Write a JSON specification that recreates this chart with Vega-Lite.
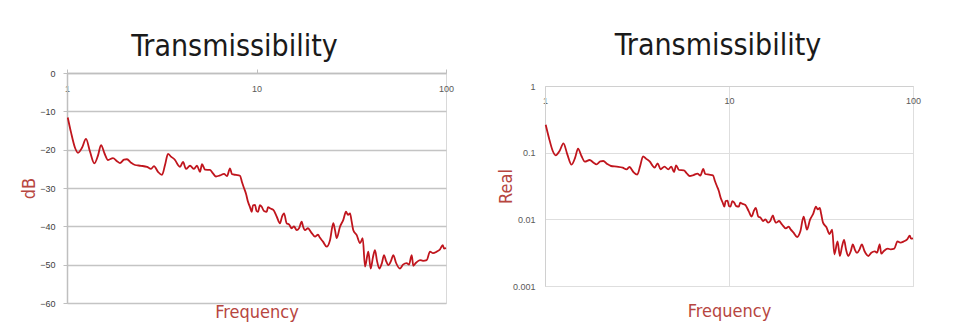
{
"$schema":"https://vega.github.io/schema/vega-lite/v6.json",
"background":"white",
"padding":{"left":20,"top":31,"right":5,"bottom":0},
"data":{"values":[
{"f":1.009,"db":-11.6,"real":0.263},{"f":1.050,"db":-15.5,"real":0.168},{"f":1.102,"db":-19.5,"real":0.106},{"f":1.143,"db":-20.8,"real":0.0912},{"f":1.200,"db":-19.5,"real":0.106},{"f":1.260,"db":-17.2,"real":0.138},{"f":1.322,"db":-20.5,"real":0.0944},{"f":1.394,"db":-23.6,"real":0.0661},{"f":1.458,"db":-21.5,"real":0.0841},{"f":1.512,"db":-18.8,"real":0.115},{"f":1.578,"db":-21,"real":0.0891},{"f":1.646,"db":-22.7,"real":0.0733},{"f":1.748,"db":-22.2,"real":0.0776},{"f":1.836,"db":-23,"real":0.0708},{"f":1.904,"db":-23.5,"real":0.0668},{"f":1.999,"db":-22.6,"real":0.0741},{"f":2.073,"db":-22.5,"real":0.0750},{"f":2.176,"db":-23.4,"real":0.0676},{"f":2.285,"db":-24,"real":0.0631},{"f":2.457,"db":-24.2,"real":0.0617},{"f":2.644,"db":-24.5,"real":0.0596},{"f":2.776,"db":-25,"real":0.0562},{"f":2.878,"db":-24.3,"real":0.0610},{"f":3.022,"db":-25.8,"real":0.0513},{"f":3.172,"db":-26.6,"real":0.0468},{"f":3.290,"db":-24,"real":0.0631},{"f":3.412,"db":-21.1,"real":0.0881},{"f":3.538,"db":-21.8,"real":0.0813},{"f":3.715,"db":-22.7,"real":0.0733},{"f":3.853,"db":-24,"real":0.0631},{"f":3.948,"db":-24.5,"real":0.0596},{"f":4.095,"db":-23.2,"real":0.0692},{"f":4.246,"db":-25,"real":0.0562},{"f":4.459,"db":-24.2,"real":0.0617},{"f":4.680,"db":-25,"real":0.0562},{"f":4.853,"db":-24.2,"real":0.0617},{"f":5.032,"db":-25.8,"real":0.0513},{"f":5.157,"db":-23.8,"real":0.0646},{"f":5.348,"db":-25.2,"real":0.0550},{"f":5.683,"db":-25.3,"real":0.0543},{"f":5.894,"db":-26.2,"real":0.0490},{"f":6.113,"db":-27,"real":0.0447},{"f":6.418,"db":-26.7,"real":0.0462},{"f":6.738,"db":-26.3,"real":0.0484},{"f":6.988,"db":-26.9,"real":0.0452},{"f":7.248,"db":-24.9,"real":0.0569},{"f":7.426,"db":-26.4,"real":0.0479},{"f":7.796,"db":-26.6,"real":0.0468},{"f":8.185,"db":-26.8,"real":0.0457},{"f":8.387,"db":-28.5,"real":0.0376},{"f":8.590,"db":-30,"real":0.0316},{"f":8.802,"db":-31.5,"real":0.0266},{"f":9.018,"db":-33.6,"real":0.0209},{"f":9.241,"db":-35,"real":0.0178},{"f":9.434,"db":-36.2,"real":0.0155},{"f":9.584,"db":-34.5,"real":0.0188},{"f":9.820,"db":-34.4,"real":0.0191},{"f":10.0,"db":-36,"real":0.0158},{"f":10.18,"db":-36.2,"real":0.0155},{"f":10.43,"db":-34.5,"real":0.0188},{"f":10.65,"db":-34.9,"real":0.0180},{"f":10.95,"db":-36,"real":0.0158},{"f":11.32,"db":-36.2,"real":0.0155},{"f":11.50,"db":-35,"real":0.0178},{"f":11.78,"db":-35.3,"real":0.0172},{"f":12.27,"db":-35.7,"real":0.0164},{"f":12.79,"db":-37.5,"real":0.0133},{"f":13.30,"db":-39.2,"real":0.0110},{"f":13.63,"db":-37.5,"real":0.0133},{"f":13.97,"db":-36.6,"real":0.0148},{"f":14.43,"db":-39.2,"real":0.0110},{"f":14.84,"db":-39.5,"real":0.0106},{"f":15.34,"db":-40.5,"real":0.00944},{"f":15.77,"db":-40,"real":0.0100},{"f":16.30,"db":-41,"real":0.00891},{"f":16.76,"db":-40.5,"real":0.00944},{"f":17.32,"db":-38.8,"real":0.0115},{"f":17.60,"db":-40,"real":0.0100},{"f":18.03,"db":-41,"real":0.00891},{"f":18.70,"db":-40.5,"real":0.00944},{"f":19.39,"db":-41.5,"real":0.00841},{"f":20.36,"db":-42.7,"real":0.00733},{"f":21.11,"db":-42.2,"real":0.00776},{"f":21.63,"db":-43,"real":0.00708},{"f":22.43,"db":-44,"real":0.00631},{"f":23.46,"db":-45.3,"real":0.00543},{"f":24.43,"db":-43.6,"real":0.00661},{"f":25.43,"db":-39.2,"real":0.0110},{"f":25.96,"db":-41,"real":0.00891},{"f":26.50,"db":-43.1,"real":0.00700},{"f":27.58,"db":-40.1,"real":0.00989},{"f":28.71,"db":-38.3,"real":0.0122},{"f":29.67,"db":-36.2,"real":0.0155},{"f":30.40,"db":-37,"real":0.0141},{"f":31.15,"db":-36.6,"real":0.0148},{"f":31.72,"db":-38.5,"real":0.0119},{"f":32.43,"db":-41,"real":0.00891},{"f":33.80,"db":-42.3,"real":0.00767},{"f":35.18,"db":-44.4,"real":0.00603},{"f":36.35,"db":-43.1,"real":0.00700},{"f":37.39,"db":-50.5,"real":0.00299},{"f":38.90,"db":-46.6,"real":0.00468},{"f":40.05,"db":-51,"real":0.00282},{"f":41.19,"db":-48,"real":0.00398},{"f":42.20,"db":-46.2,"real":0.00490},{"f":43.24,"db":-49,"real":0.00355},{"f":44.46,"db":-51,"real":0.00282},{"f":45.95,"db":-49.5,"real":0.00335},{"f":47.08,"db":-47.5,"real":0.00422},{"f":48.25,"db":-49,"real":0.00355},{"f":49.61,"db":-50.1,"real":0.00313},{"f":51.27,"db":-49,"real":0.00355},{"f":52.72,"db":-47.5,"real":0.00422},{"f":54.47,"db":-49.5,"real":0.00335},{"f":57.19,"db":-51,"real":0.00282},{"f":59.31,"db":-50,"real":0.00316},{"f":62.03,"db":-49.6,"real":0.00331},{"f":63.78,"db":-50,"real":0.00316},{"f":65.91,"db":-47.5,"real":0.00422},{"f":67.20,"db":-50.3,"real":0.00305},{"f":69.45,"db":-49.5,"real":0.00335},{"f":72.91,"db":-48.8,"real":0.00363},{"f":75.61,"db":-49,"real":0.00355},{"f":79.10,"db":-48.8,"real":0.00363},{"f":82.34,"db":-46.6,"real":0.00468},{"f":85.39,"db":-47,"real":0.00447},{"f":89.31,"db":-46.6,"real":0.00468},{"f":92.97,"db":-46,"real":0.00501},{"f":96.08,"db":-44.9,"real":0.00569},{"f":97.60,"db":-45.8,"real":0.00513},{"f":100,"db":-45.7,"real":0.00519}
]},
"config":{
"view":{"stroke":"#d9d9d9"},
"title":{"font":"'DejaVu Sans Condensed', 'Liberation Sans Narrow', Roboto","fontSize":30,"fontWeight":"normal","color":"#1a1a1a"},
"axis":{"titleFont":"'DejaVu Sans Condensed', 'Liberation Sans Narrow', Roboto","titleFontWeight":"normal","titleColor":"#b7463f","titleFontSize":18,"labelFont":"'Liberation Sans', Arial","labelFontSize":9,"labelColor":"#595959"}
},
"spacing":41,
"hconcat":[
{"width":379,"height":230,
"title":{"text":"Transmissibility","offset":7,"dx":-22},
"layer":[
{"mark":{"type":"line","color":"#c0151d","strokeWidth":1.8,"interpolate":"monotone"},
"encoding":{
"x":{"field":"f","type":"quantitative","scale":{"type":"log","domain":[1,100]},"axis":{"orient":"top","values":[1,10,100],"grid":false,"domainColor":"#bfbfbf","domainWidth":1.5,"tickColor":"#bfbfbf","tickSize":4,"labelBaseline":"top","labelPadding":-15,"labelFlush":false,"title":null,"format":"~g"}},
"y":{"field":"db","type":"quantitative","scale":{"domain":[-60,0]},"axis":{"values":[-60,-50,-40,-30,-20,-10,0],"grid":true,"gridColor":"#c4c4c4","gridWidth":1.5,"domainColor":"#bfbfbf","domainWidth":1.5,"tickColor":"#bfbfbf","tickSize":4,"labelPadding":8,"labelColor":"#404040","title":"dB","titlePadding":1}}
}},
{"mark":{"type":"point","opacity":0},
"encoding":{
"x":{"field":"f","type":"quantitative","scale":{"type":"log","domain":[1,100]},"axis":{"orient":"bottom","labels":false,"ticks":false,"domain":false,"grid":false,"title":"Frequency","titlePadding":0}},
"y":{"field":"db","type":"quantitative","axis":null}
}}
],
"resolve":{"axis":{"x":"independent","y":"independent"}}
},
{"spacing":0,
"vconcat":[
{"width":368,"height":8,"title":{"text":"Transmissibility","offset":12,"dx":-11},"data":{"values":[]},"mark":"point","view":{"stroke":null}},
{"width":368,"height":200,
"layer":[
{"mark":{"type":"line","color":"#c0151d","strokeWidth":1.8,"interpolate":"monotone"},
"encoding":{
"x":{"field":"f","type":"quantitative","scale":{"type":"log","domain":[1,100]},"axis":{"orient":"top","values":[1,10,100],"grid":true,"gridColor":"#dedede","domainColor":"#d0d0d0","ticks":false,"labelBaseline":"top","labelPadding":-10,"labelFlush":false,"title":null,"format":"~g"}},
"y":{"field":"real","type":"quantitative","scale":{"type":"log","domain":[0.001,1]},"axis":{"values":[0.001,0.01,0.1,1],"format":"~g","grid":true,"gridColor":"#dedede","domainColor":"#d0d0d0","ticks":false,"labelPadding":10,"title":"Real","titlePadding":-3}}
}},
{"mark":{"type":"point","opacity":0},
"encoding":{
"x":{"field":"f","type":"quantitative","scale":{"type":"log","domain":[1,100]},"axis":{"orient":"bottom","labels":false,"ticks":false,"domain":false,"grid":false,"title":"Frequency","titlePadding":16}},
"y":{"field":"real","type":"quantitative","scale":{"type":"log","domain":[0.001,1]},"axis":null}
}}
],
"resolve":{"axis":{"x":"independent","y":"independent"}}
}
]
}
]
}
